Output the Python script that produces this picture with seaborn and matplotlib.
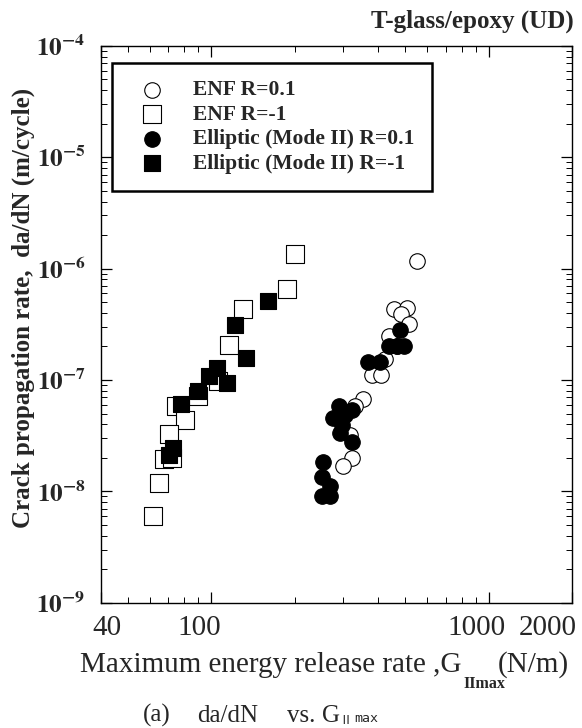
import numpy as np
import pandas as pd
import seaborn as sns
import matplotlib.pyplot as plt
import matplotlib.transforms as mtransforms
from matplotlib.ticker import LogLocator, NullFormatter

# -------------------------
# Data
# -------------------------
# ENF, R=0.1 (open circles)
enf_r01_g = [552, 458, 508, 485, 518, 436, 467, 424, 380, 410, 354, 331, 317, 322, 298]
enf_r01_rate = [1.17e-6, 4.3e-7, 4.46e-7, 3.88e-7, 3.16e-7, 2.48e-7, 2.01e-7, 1.53e-7,
                1.12e-7, 1.12e-7, 6.7e-8, 5.8e-8, 3.23e-8, 2.0e-8, 1.68e-8]

# ENF, R=-1 (open squares)
enf_rm1_g = [201, 188, 130, 116, 106, 90, 75, 80.5, 70.4, 67.8, 72, 64.8, 61.8]
enf_rm1_rate = [1.35e-6, 6.5e-7, 4.3e-7, 2.06e-7, 9.75e-8, 7.15e-8, 5.8e-8, 4.41e-8,
                3.3e-8, 1.96e-8, 2.0e-8, 1.19e-8, 6.0e-9]

# Elliptic (Mode II), R=0.1 (filled circles)
ell_r01_g = [478, 439, 467, 494, 367, 407, 288, 322, 276, 304, 296, 292, 322,
             254, 252, 268, 252, 268]
ell_r01_rate = [2.84e-7, 2.01e-7, 2.0e-7, 2.01e-7, 1.45e-7, 1.45e-7, 5.8e-8, 5.43e-8,
                4.57e-8, 4.9e-8, 3.98e-8, 3.35e-8, 2.76e-8, 1.82e-8, 1.36e-8, 1.11e-8,
                9.0e-9, 9.0e-9]

# Elliptic (Mode II), R=-1 (filled squares)
ell_rm1_g = [160, 122, 134, 105, 98.4, 114, 89.9, 78.2, 73.0, 70.4]
ell_rm1_rate = [5.1e-7, 3.1e-7, 1.58e-7, 1.29e-7, 1.08e-7, 9.4e-8, 7.9e-8, 6.1e-8,
                2.46e-8, 2.14e-8]

series_labels = ['ENF R=0.1', 'ENF R=-1', 'Elliptic (Mode II) R=0.1', 'Elliptic (Mode II) R=-1']

x_ticks = [40, 100, 1000, 2000]
x_ticklabels = ['40', '100', '1000', '2000']
y_ticks = [1e-9, 1e-8, 1e-7, 1e-6, 1e-5, 1e-4]
y_ticklabels = [r'$\mathbf{10^{-9}}$', r'$\mathbf{10^{-8}}$', r'$\mathbf{10^{-7}}$',
                r'$\mathbf{10^{-6}}$', r'$\mathbf{10^{-5}}$', r'$\mathbf{10^{-4}}$']

# -------------------------
# Style
# -------------------------
sns.set_style('ticks')
plt.rcParams['font.family'] = ['Liberation Serif', 'DejaVu Serif']
plt.rcParams['mathtext.fontset'] = 'stix'
plt.rcParams['axes.linewidth'] = 1.0

fig, ax = plt.subplots(figsize=(5.82, 7.28), dpi=100)
fig.subplots_adjust(left=0.173, right=0.983, top=0.937, bottom=0.172)

# open markers first, filled ones on top
sns.scatterplot(x=enf_r01_g, y=enf_r01_rate, marker='o', s=125, color='white',
                edgecolor='black', linewidth=0.8, label=series_labels[0], ax=ax, zorder=2)
sns.scatterplot(x=enf_rm1_g, y=enf_rm1_rate, marker='s', s=150, color='white',
                edgecolor='black', linewidth=0.8, label=series_labels[1], ax=ax, zorder=2)
sns.scatterplot(x=ell_r01_g, y=ell_r01_rate, marker='o', s=125, color='black',
                edgecolor='black', linewidth=0.8, label=series_labels[2], ax=ax, zorder=3)
sns.scatterplot(x=ell_rm1_g, y=ell_rm1_rate, marker='s', s=130, color='black',
                edgecolor='black', linewidth=0.8, label=series_labels[3], ax=ax, zorder=3)

ax.set_xscale('log')
ax.set_yscale('log')
ax.set_xlim(40, 2000)
ax.set_ylim(1e-9, 1e-4)

ax.set_xticks(x_ticks)
ax.set_xticklabels(x_ticklabels, fontsize=21)
ax.xaxis.set_minor_locator(LogLocator(base=10, subs=np.arange(2, 10)))
ax.xaxis.set_minor_formatter(NullFormatter())
ax.set_yticks(y_ticks)
ax.set_yticklabels(y_ticklabels, fontsize=18)
ax.yaxis.set_minor_locator(LogLocator(base=10, subs=np.arange(2, 10)))
ax.yaxis.set_minor_formatter(NullFormatter())

ax.tick_params(which='both', direction='in', top=True, right=True, color='black')
ax.tick_params(which='major', length=8, width=0.9)
ax.tick_params(which='minor', length=4, width=0.7)
ax.tick_params(axis='x', which='major', pad=9)
ax.tick_params(axis='y', which='major', pad=11)
for sp in ax.spines.values():
    sp.set_color('black')

# x tick labels sit a little left of their ticks in the original
shifts_px = [6, -12, -12, -24]
for lab, dx in zip(ax.get_xticklabels(), shifts_px):
    lab.set_transform(lab.get_transform() +
                      mtransforms.ScaledTranslation(dx / 100, 0, fig.dpi_scale_trans))

# y label
fig.text(23 / 582, 1 - 308 / 728, 'Crack propagation rate,  da/dN (m/cycle)',
         rotation=90, ha='center', va='center', fontsize=18, fontweight='bold')

# x label with low bold subscript
fig.text(462 / 582, 1 - 672 / 728, 'Maximum energy release rate ,G',
         ha='right', va='baseline', fontsize=21)
fig.text(463 / 582, 1 - 688 / 728, 'IImax', ha='left', va='baseline',
         fontsize=11.5, fontweight='bold')
fig.text(498 / 582, 1 - 672 / 728, '(N/m)', ha='left', va='baseline', fontsize=21)

# caption
fig.text(143 / 582, 1 - 722 / 728, '(a)', ha='left', va='baseline', fontsize=18)
fig.text(197 / 582, 1 - 722 / 728, 'da/dN', ha='left', va='baseline', fontsize=18)
fig.text(287 / 582, 1 - 722 / 728, 'vs.', ha='left', va='baseline', fontsize=18)
fig.text(322 / 582, 1 - 722 / 728, 'G', ha='left', va='baseline', fontsize=18)
fig.text(339 / 582, 1 - 724 / 728, 'Ⅱ', ha='left', va='baseline', fontsize=9,
         family=['Noto Sans CJK JP', 'DejaVu Sans'])
fig.text(354 / 582, 1 - 722 / 728, 'max', ha='left', va='baseline', fontsize=9.5,
         family=['DejaVu Sans Mono'])

# title
fig.text(574 / 582, 1 - 28 / 728, 'T-glass/epoxy (UD)', ha='right', va='baseline',
         fontsize=18, fontweight='bold')

leg = ax.legend(loc='upper left', bbox_to_anchor=(0.023, 0.969), borderaxespad=0,
                frameon=True, fancybox=False, edgecolor='black', framealpha=1,
                prop={'family': 'Liberation Serif', 'weight': 'bold', 'size': 15.5},
                handletextpad=0.8, labelspacing=0.2, borderpad=0.8,
                handlelength=2.2, markerscale=1.0)
leg.get_frame().set_linewidth(1.8)

plt.savefig('out.png', dpi=100)
